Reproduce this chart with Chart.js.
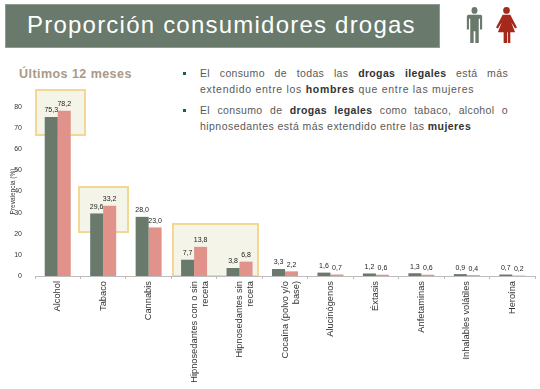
<!DOCTYPE html>
<html>
<head>
<meta charset="utf-8">
<script src="https://cdn.jsdelivr.net/npm/chart.js@4"></script>
<style>
  html, body { margin: 0; padding: 0; background: #fff; }
  #page { position: relative; width: 540px; height: 389px; overflow: hidden; font-family: "Liberation Sans", Arial, sans-serif; }
  #page > * { position: absolute; }
  #titleBox { left: 5px; top: 4px; width: 435px; height: 44px; background: #69796b; border: 1px solid #8f9c91; box-sizing: border-box; }
  #titleText { left: 27px; top: 9px; font-size: 24px; line-height: 32px; letter-spacing: 1.22px; color: #fff; white-space: nowrap; }
  #subtitle { left: 19px; top: 67px; font-size: 12.5px; font-weight: bold; letter-spacing: 0.45px; color: #a89a84; white-space: nowrap; }
  .note { left: 200px; width: 308px; font-size: 10.5px; line-height: 16px; letter-spacing: 0.35px; color: #595959; text-align: justify; text-align-last: left; }
  .note .first { display: block; text-align-last: justify; }
  .note b { color: #333; }
  .dot { width: 3px; height: 3px; background: #0f6b2e; left: 183px; }
  .hl { background: #f5f4e9; border: 2px solid #f5d794; box-sizing: border-box; }
  canvas { left: 0; top: 0; }
</style>
</head>
<body>
<div id="page">
  <div id="titleBox"></div>
  <div id="titleText">Proporción consumidores drogas</div>
  <svg style="left:466px;top:6px" width="17" height="38" viewBox="0 0 20 39" preserveAspectRatio="none">
    <g fill="#69796b">
      <circle cx="10" cy="4.5" r="3.5"/>
      <path d="M3 9h14a2 2 0 0 1 2 2v13h-2.5V13H15v12.5V38h-4V26H9v12H5V13H3.5v11H1V11a2 2 0 0 1 2-2z"/>
    </g>
  </svg>
  <svg style="left:496px;top:6px" width="21" height="38" viewBox="0 0 22 39" preserveAspectRatio="none">
    <g fill="#a5281a">
      <circle cx="11" cy="4.5" r="3.5"/>
      <path d="M7 9h8l7 13-2 1-4-6 4 10h-5v11h-2.6V27h-.8v11H8V27H2l4-10-4 6-2-1z"/>
    </g>
  </svg>
  <div id="subtitle">Últimos 12 meses</div>
  <div class="dot" style="top:72px"></div>
  <div class="note" style="top:65px"><span class="first">El consumo de todas las <b>drogas ilegales</b> está más</span><span style="letter-spacing:0.7px">extendido entre los <b>hombres</b> que entre las mujeres</span></div>
  <div class="dot" style="top:109px"></div>
  <div class="note" style="top:102px"><span class="first">El consumo de <b>drogas legales</b> como tabaco, alcohol o</span><span style="letter-spacing:0.45px">hipnosedantes está más extendido entre las <b>mujeres</b></span></div>
  <div class="hl" style="left:35px;top:89px;width:51px;height:47px"></div>
  <div class="hl" style="left:78px;top:186px;width:51px;height:47px"></div>
  <div class="hl" style="left:172px;top:223px;width:87px;height:54px"></div>
  <canvas id="myChart" width="540" height="389"></canvas>
</div>
<script>
const categories = [
  'Alcohol',
  'Tabaco',
  'Cannabis',
  ['Hipnosedantes con o sin', 'receta'],
  ['Hipnosedantes sin', 'receta'],
  ['Cocaína (polvo y/o', 'base)'],
  'Alucinógenos',
  'Éxtasis',
  'Anfetaminas',
  'Inhalables volátiles',
  'Heroína',
];
const hombres = [75.3, 29.6, 28.0, 7.7, 3.8, 3.3, 1.6, 1.2, 1.3, 0.9, 0.7];
const mujeres = [78.2, 33.2, 23.0, 13.8, 6.8, 2.2, 0.7, 0.6, 0.6, 0.4, 0.2];
const yTicks = [0, 10, 20, 30, 40, 50, 60, 70, 80];

// values above each bar, with a decimal comma
const barLabels = {
  id: 'barLabels',
  afterDatasetsDraw(chart) {
    const ctx = chart.ctx;
    ctx.save();
    ctx.font = '7px "Liberation Sans", Arial, sans-serif';
    ctx.fillStyle = '#222';
    ctx.textAlign = 'center';
    ctx.textBaseline = 'bottom';
    chart.data.datasets.forEach((ds, i) => {
      chart.getDatasetMeta(i).data.forEach((bar, j) => {
        ctx.fillText(ds.data[j].toFixed(1).replace('.', ','), bar.x, bar.y - 3);
      });
    });
    ctx.restore();
  },
};

const ctx = document.getElementById('myChart').getContext('2d');
new Chart(ctx, {
  type: 'bar',
  data: {
    labels: categories,
    datasets: [
      { label: 'Hombres', data: hombres, backgroundColor: '#69796b' },
      { label: 'Mujeres', data: mujeres, backgroundColor: '#e1928a' },
    ],
  },
  options: {
    responsive: false,
    animation: false,
    layout: { padding: { left: 9, top: 107, right: 5, bottom: 0 } },
    plugins: { legend: { display: false }, tooltip: { enabled: false } },
    datasets: { bar: { barPercentage: 1, categoryPercentage: 0.572 } },
    scales: {
      x: {
        afterFit(scale) { scale.height = 113; },
        grid: { drawOnChartArea: false, color: '#bdbdbd', tickLength: 3, offset: true },
        border: { color: '#bdbdbd' },
        ticks: {
          autoSkip: false,
          minRotation: 90,
          maxRotation: 90,
          padding: 2,
          color: '#333',
          font: { size: 9.3, family: '"Liberation Sans", Arial, sans-serif' },
        },
      },
      y: {
        min: 0,
        max: 80,
        afterFit(scale) { scale.width = 26; },
        afterBuildTicks(scale) { scale.ticks = yTicks.map((value) => ({ value })); },
        grid: { display: false },
        border: { display: false },
        title: {
          display: true,
          text: 'Prevalencia (%)',
          padding: 0,
          color: '#333',
          font: { size: 6.5, family: '"Liberation Sans", Arial, sans-serif' },
        },
        ticks: {
          padding: 5,
          color: '#333',
          font: { size: 7, family: '"Liberation Sans", Arial, sans-serif' },
        },
      },
    },
  },
  plugins: [barLabels],
});
</script>
</body>
</html>
